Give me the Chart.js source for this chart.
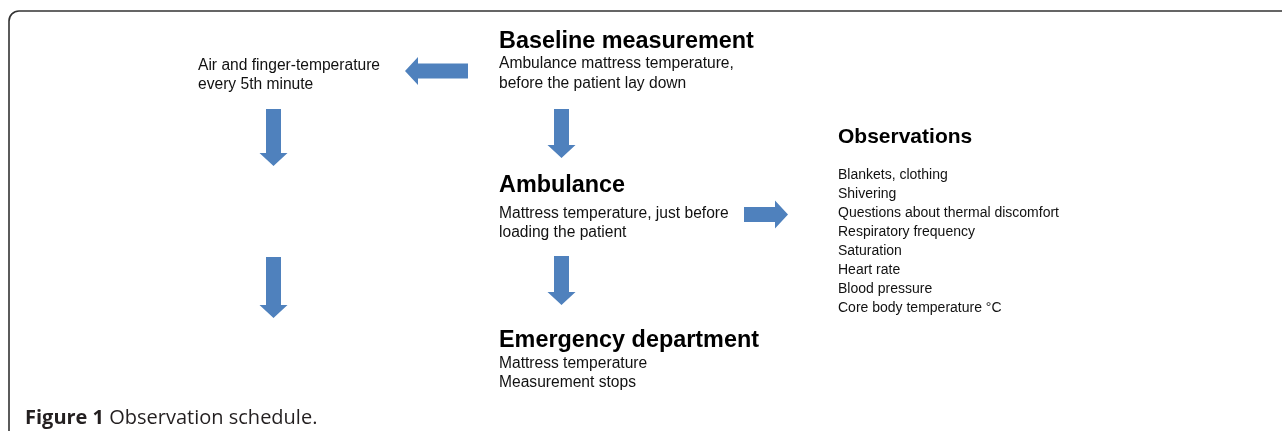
<!DOCTYPE html>
<html>
<head>
<meta charset="utf-8">
<script src="https://cdn.jsdelivr.net/npm/chart.js@4.4.0/dist/chart.umd.min.js"></script>
<style>
    html, body { margin: 0; padding: 0; background: #fff; }
    #wrap { width: 1282px; height: 431px; position: relative; }
</style>
</head>
<body>
<div id="wrap"><canvas id="schedule"></canvas></div>
<script>
    "use strict";

    // Diagram content
    var stageTitles = ["Baseline measurement", "Ambulance", "Emergency department"];
    var stageNotes = [
        ["Ambulance mattress temperature,", "before the patient lay down"],
        ["Mattress temperature, just before", "loading the patient"],
        ["Mattress temperature", "Measurement stops"]
    ];
    var sideNote = ["Air and finger-temperature", "every 5th minute"];
    var observationTitle = "Observations";
    var observationItems = [
        "Blankets, clothing",
        "Shivering",
        "Questions about thermal discomfort",
        "Respiratory frequency",
        "Saturation",
        "Heart rate",
        "Blood pressure",
        "Core body temperature \u00b0C"
    ];
    var captionBold = "Figure 1";
    var captionText = " Observation schedule.";

    // Layout in scale units (x: 0-1282, y: 0-431 from the top)
    var layout = {
        stageX: 499,
        stageTitleY: [48, 192, 347],
        stageNoteY: [[68, 88], [218, 237], [368, 387]],
        sideX: 198,
        sideY: [70, 89],
        obsX: 838,
        obsTitleY: 143,
        obsFirstY: 179,
        obsStep: 19,
        captionX: 25,
        captionY: 424
    };

    // Arrows: tail x, tail y, tip x, tip y
    var arrows = [
        [468, 71, 405, 71],
        [273.5, 109, 273.5, 166],
        [273.5, 257, 273.5, 318],
        [561.5, 109, 561.5, 158],
        [561.5, 256, 561.5, 305],
        [744, 214.5, 788, 214.5]
    ];

    var arrowColor = "#4f81bd";
    var sans = "'Liberation Sans', Arial, sans-serif";

    var diagramPlugin = {
        id: "diagram",
        afterDatasetsDraw: function (chart) {
            var ctx = chart.ctx;
            var sx = chart.scales.x, sy = chart.scales.y;
            var px = function (v) { return sx.getPixelForValue(v); };
            var py = function (v) { return sy.getPixelForValue(v); };

            ctx.save();

            // Frame (only the top and left sides show)
            var fx = px(9), fy = py(11), r = 10;
            ctx.strokeStyle = "#333";
            ctx.lineWidth = 1.6;
            ctx.beginPath();
            ctx.moveTo(fx, py(431) + 2);
            ctx.lineTo(fx, fy + r);
            ctx.arcTo(fx, fy, fx + r, fy, r);
            ctx.lineTo(px(1282) + 2, fy);
            ctx.stroke();

            // Arrows
            ctx.fillStyle = arrowColor;
            arrows.forEach(function (a) {
                var x1 = px(a[0]), y1 = py(a[1]), x2 = px(a[2]), y2 = py(a[3]);
                var len = Math.hypot(x2 - x1, y2 - y1);
                var ang = Math.atan2(y2 - y1, x2 - x1);
                var shaft = 7.5, head = 14, headLen = 13;
                ctx.save();
                ctx.translate(x1, y1);
                ctx.rotate(ang);
                ctx.beginPath();
                ctx.moveTo(0, -shaft);
                ctx.lineTo(len - headLen, -shaft);
                ctx.lineTo(len - headLen, -head);
                ctx.lineTo(len, 0);
                ctx.lineTo(len - headLen, head);
                ctx.lineTo(len - headLen, shaft);
                ctx.lineTo(0, shaft);
                ctx.closePath();
                ctx.fill();
                ctx.restore();
            });

            ctx.textBaseline = "alphabetic";
            ctx.textAlign = "left";

            // Stages
            stageTitles.forEach(function (t, i) {
                ctx.fillStyle = "#000";
                ctx.font = "bold 23.4px " + sans;
                ctx.fillText(t, px(layout.stageX), py(layout.stageTitleY[i]));
                ctx.fillStyle = "#111";
                ctx.font = "15.6px " + sans;
                stageNotes[i].forEach(function (line, j) {
                    ctx.fillText(line, px(layout.stageX), py(layout.stageNoteY[i][j]));
                });
            });

            // Side note
            ctx.fillStyle = "#111";
            ctx.font = "15.6px " + sans;
            sideNote.forEach(function (line, j) {
                ctx.fillText(line, px(layout.sideX), py(layout.sideY[j]));
            });

            // Observations
            ctx.fillStyle = "#000";
            ctx.font = "bold 21px " + sans;
            ctx.fillText(observationTitle, px(layout.obsX), py(layout.obsTitleY));
            ctx.fillStyle = "#111";
            ctx.font = "14px " + sans;
            observationItems.forEach(function (item, i) {
                ctx.fillText(item, px(layout.obsX), py(layout.obsFirstY + i * layout.obsStep));
            });

            // Caption
            ctx.fillStyle = "#231f20";
            ctx.font = "bold 20px 'Open Sans', 'Noto Sans', sans-serif";
            ctx.fillText(captionBold, px(layout.captionX), py(layout.captionY));
            var w = ctx.measureText(captionBold).width;
            ctx.font = "20px 'Open Sans', 'Noto Sans', sans-serif";
            ctx.fillText(captionText, px(layout.captionX) + w, py(layout.captionY));

            ctx.restore();
        }
    };

    var ctx1 = document.getElementById("schedule").getContext("2d");
    var myChart1 = new Chart(ctx1, {
        type: "scatter",
        data: { datasets: [{ data: [], pointRadius: 0 }] },
        options: {
            responsive: true,
            maintainAspectRatio: false,
            animation: false,
            layout: { padding: 0 },
            plugins: { legend: { display: false }, tooltip: { enabled: false } },
            scales: {
                x: { type: "linear", min: 0, max: 1282, display: false },
                y: { type: "linear", min: 0, max: 431, reverse: true, display: false }
            }
        },
        plugins: [diagramPlugin]
    });
</script>
</body>
</html>
